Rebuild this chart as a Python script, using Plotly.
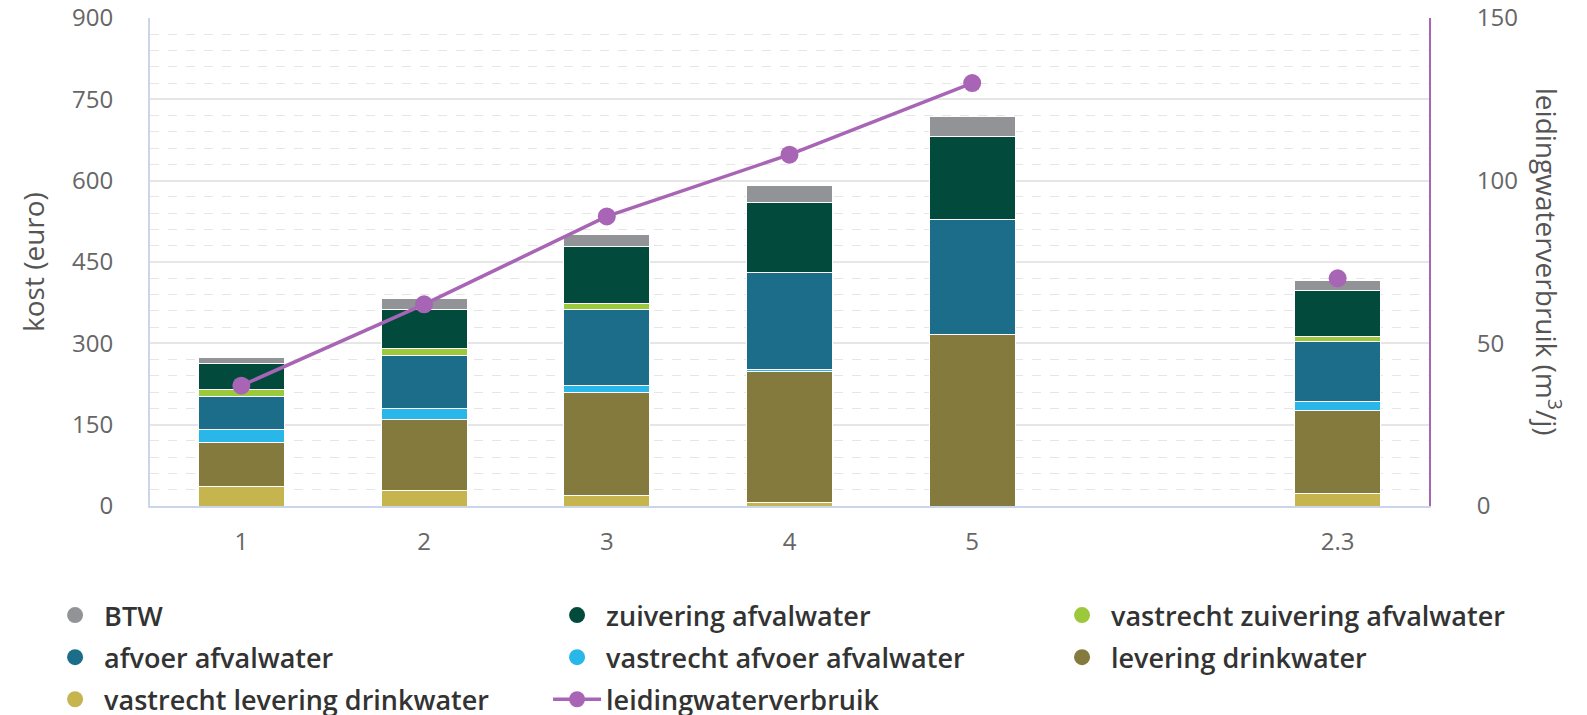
import plotly.graph_objects as go

# ---- data ----
categories = ["1", "2", "3", "4", "5", "", "2.3"]
x_pos = [0, 1, 2, 3, 4, 5, 6]

vastrecht_levering_drinkwater = [36, 28, 19, 7, 0, None, 23]
levering_drinkwater = [81, 131, 191, 241, 316, None, 153]
vastrecht_afvoer_afvalwater = [25, 21, 13, 3, 0, None, 16]
afvoer_afvalwater = [60, 98, 140, 180, 213, None, 111]
vastrecht_zuivering_afvalwater = [13, 12, 10, 0, 0, None, 10]
zuivering_afvalwater = [47, 73, 105, 129, 153, None, 85]
btw = [12, 19, 22, 31, 37, None, 18]
leidingwaterverbruik = [37, 62, 89, 108, 130, None, 70]

tick_vals = [0, 1, 2, 3, 4, 6]
tick_text = ["1", "2", "3", "4", "5", "2.3"]

y_title = "kost (euro)"
y2_title = "leidingwaterverbruik (m<sup>3</sup>/j)"

# ---- styles ----
FONT = "Open Sans"
C_BTW = "#919396"
C_ZUIV = "#024b3c"
C_VZUIV = "#9cc83c"
C_AFV = "#1b6d8a"
C_VAFV = "#29b6e9"
C_LEV = "#847a3d"
C_VLEV = "#c6b54f"
C_LINE = "#a865b5"

stack = [
    ("vastrecht levering drinkwater", vastrecht_levering_drinkwater, C_VLEV),
    ("levering drinkwater", levering_drinkwater, C_LEV),
    ("vastrecht afvoer afvalwater", vastrecht_afvoer_afvalwater, C_VAFV),
    ("afvoer afvalwater", afvoer_afvalwater, C_AFV),
    ("vastrecht zuivering afvalwater", vastrecht_zuivering_afvalwater, C_VZUIV),
    ("zuivering afvalwater", zuivering_afvalwater, C_ZUIV),
    ("BTW", btw, C_BTW),
]

fig = go.Figure()
for name, vals, col in stack:
    fig.add_trace(go.Bar(
        x=x_pos, y=vals, name=name, width=0.47,
        marker=dict(color=col, line=dict(color="white", width=1)),
        showlegend=False, hoverinfo="name+y",
    ))

fig.add_trace(go.Scatter(
    x=x_pos, y=leidingwaterverbruik, name="leidingwaterverbruik",
    yaxis="y2", mode="lines+markers", connectgaps=False,
    line=dict(color=C_LINE, width=3.5),
    marker=dict(color=C_LINE, size=18),
    legend="legend2", legendgroup="g_line", legendrank=10,
))

# legend entries (circle symbols), laid out in three columns, row-major order
legend_cols = {
    "legend": [("BTW", C_BTW), ("afvoer afvalwater", C_AFV),
               ("vastrecht levering drinkwater", C_VLEV)],
    "legend2": [("zuivering afvalwater", C_ZUIV),
                ("vastrecht afvoer afvalwater", C_VAFV)],
    "legend3": [("vastrecht zuivering afvalwater", C_VZUIV),
                ("levering drinkwater", C_LEV)],
}
for lg, items in legend_cols.items():
    for i, (name, col) in enumerate(items):
        fig.add_trace(go.Scatter(
            x=[None], y=[None], name=name, mode="markers",
            marker=dict(color=col, size=20, symbol="circle"),
            legend=lg, legendgroup=f"g_{lg}_{i}", legendrank=i + 1,
        ))

leg_common = dict(
    orientation="v", xref="container", yref="container",
    xanchor="left", yanchor="top", bgcolor="rgba(0,0,0,0)", tracegroupgap=4,
    font=dict(family=FONT, size=27, color="#333333", weight=600),
    itemsizing="trace", itemwidth=48,
)

fig.update_layout(
    width=1587, height=715,
    margin=dict(l=142, r=166, t=10, b=217, autoexpand=False),
    paper_bgcolor="white", plot_bgcolor="white",
    barmode="stack",
    font=dict(family=FONT, size=24, color="#666666"),
    xaxis=dict(
        range=[-0.5, 6.5], tickmode="array", tickvals=tick_vals, ticktext=tick_text,
        showgrid=False, zeroline=False, showline=True, linecolor="#ccd6eb",
        linewidth=2, ticks="", ticklabelstandoff=13, tickangle=0,
        ticklabeloverflow="allow",
        tickfont=dict(family=FONT, size=24, color="#666666"),
        automargin=False,
    ),
    yaxis=dict(
        range=[0, 900], tickvals=[0, 150, 300, 450, 600, 750, 900],
        showgrid=True, gridcolor="#e6e6e6", gridwidth=1.5,
        minor=dict(dtick=30, tick0=0, showgrid=True, gridcolor="#e6e6e6",
                   griddash="dash", gridwidth=1),
        zeroline=False, showline=True, linecolor="#ccd6eb", linewidth=2,
        ticks="", ticklabelstandoff=30, ticklabeloverflow="allow",
        tickfont=dict(family=FONT, size=24, color="#666666"),
        automargin=False,
    ),
    yaxis2=dict(
        range=[0, 150], tickvals=[0, 50, 100, 150], overlaying="y", side="right",
        showgrid=False, zeroline=False, showline=True, linecolor=C_LINE, linewidth=2,
        ticks="", ticklabelstandoff=41, ticklabeloverflow="allow",
        tickfont=dict(family=FONT, size=24, color="#666666"),
        automargin=False,
    ),
    annotations=[
        dict(text=y_title, xref="paper", yref="paper", x=-0.0915, y=0.5,
             textangle=-90, showarrow=False, xanchor="center", yanchor="middle",
             font=dict(family=FONT, size=28, color="#555555")),
        dict(text=y2_title, xref="paper", yref="paper", x=1.094, y=0.5,
             textangle=90, showarrow=False, xanchor="center", yanchor="middle",
             font=dict(family=FONT, size=28, color="#555555")),
    ],
    legend=dict(x=0.024, y=0.1846, **leg_common),
    legend2=dict(x=0.3403, y=0.1846, **leg_common),
    legend3=dict(x=0.6585, y=0.1846, **leg_common),
    showlegend=True,
)

fig.write_html("out.html")
